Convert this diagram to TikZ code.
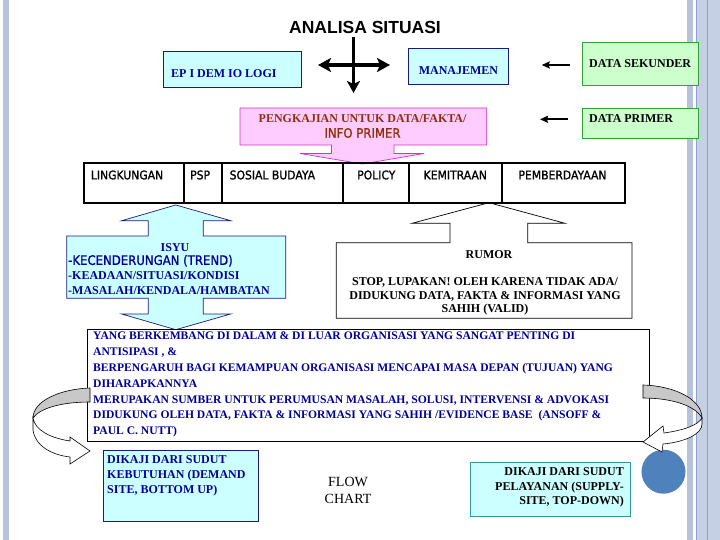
\documentclass[tikz,border=0pt]{standalone}
\usepackage{fontspec}
\setmainfont{Liberation Serif}
\newfontfamily\arialf{Liberation Sans}
\newfontfamily\tahf[FakeStretch=0.9,FakeBold=1.2]{DejaVu Sans}
\usetikzlibrary{arrows.meta}
\newcommand\myfs[2]{\fontsize{#1}{#2}\selectfont}
\definecolor{cnavy}{HTML}{000099}
\definecolor{cboxb}{HTML}{1A1A80}
\definecolor{ccyan}{HTML}{CCFFFF}
\definecolor{cpink}{HTML}{FFCCFF}
\definecolor{cpinkb}{HTML}{CC33CC}
\definecolor{cbrown}{HTML}{8F2F0A}
\definecolor{cgreenf}{HTML}{CCFFCC}
\definecolor{cgreenb}{HTML}{33A033}
\definecolor{cteal}{HTML}{339999}
\definecolor{cbar}{HTML}{B7C3DB}
\definecolor{cbar2}{HTML}{C6D0E5}
\definecolor{cbarl}{HTML}{8FA2C8}
\definecolor{cblue}{HTML}{4F81BD}
\definecolor{cgray}{HTML}{C8C8C8}
\tikzset{
  bx/.style={draw=cboxb, fill=ccyan, line width=0.8pt, inner sep=0pt},
  gbx/.style={draw=cgreenb, fill=cgreenf, line width=0.8pt, inner sep=0pt},
  tb/.style={font=\myfs{12}{14}\bfseries, inner sep=0pt},
  rowt/.style={font=\tahf\myfs{12}{14}, inner sep=0pt},
  crossarrow/.style={line width=3.6pt, {Stealth[length=13pt,width=14pt,inset=3pt]}-{Stealth[length=13pt,width=14pt,inset=3pt]}},
  downarrow/.style={line width=3.6pt, -{Stealth[length=12pt,width=13pt,inset=3pt]}},
  thinarrow/.style={line width=1.8pt, -{Stealth[length=8pt,width=7pt,inset=1pt]}},
  divline/.style={line width=2pt},
  curvgray/.style={fill=cgray, draw=black, line width=0.6pt},
  curvwhite/.style={fill=white, draw=black, line width=0.6pt},
}
\begin{document}
\begin{tikzpicture}[x=1pt,y=-1pt]
\useasboundingbox (0,0) rectangle (720,540);
\fill[white] (0,0) rectangle (720,540);
% side bars
\fill[cbar] (3,0) rectangle (9,540);
\fill[cbar] (687,0) rectangle (693,540);
\fill[cbar2] (697,0) rectangle (720,540);
\draw[cbarl, line width=1pt] (696,0) -- (696,540);
\draw[cbarl, line width=0.8pt] (707,0) -- (707,540);

% title
\node[font=\arialf\bfseries\myfs{17.5}{20}, inner sep=0pt] (title) at (365,27) {ANALISA SITUASI};

% top boxes
\node[bx, minimum width=138.2pt, minimum height=35.6pt] (epi) at (232.6,69.5) {};
\node[tb, text=cnavy, anchor=west] (epit) at (171,73.5) {EP I DEM IO LOGI};
\node[bx, minimum width=100pt, minimum height=35.7pt] (man) at (458.3,66.2) {};
\node[tb, text=cnavy] (mant) at (458.5,70.7) {MANAJEMEN};
\node[gbx, minimum width=116pt, minimum height=42.7pt, anchor=north west] (sek) at (582.3,42.3) {};
\node[tb, anchor=west] (sekt) at (589,64) {DATA SEKUNDER};
\node[gbx, minimum width=116pt, minimum height=30pt, anchor=north west] (pri) at (582.3,108.3) {};
\node[tb, anchor=west] (prit) at (589,118.3) {DATA PRIMER};

% cross arrow
\coordinate (crL) at (318,65);
\coordinate (crR) at (390,65);
\coordinate (crT) at (353.5,37);
\coordinate (crB) at (353.5,93);
\draw[crossarrow] (crL) -- (crR);
\draw[downarrow] (crT) -- (crB);

% thin arrows
\coordinate (a1s) at (570,65);
\coordinate (a1e) at (541.7,65);
\coordinate (a2s) at (568,119.3);
\coordinate (a2e) at (540,119.3);
\draw[thinarrow] (a1s) -- (a1e);
\draw[thinarrow] (a2s) -- (a2e);

% pink down arrow callout
\draw[fill=cpink, draw=cpinkb, line width=0.7pt] (240,108) -- (486.7,108) -- (486.7,145) -- (394,145) -- (394,153.5) -- (424,153.5) -- (362.5,164) -- (300,153.5) -- (331.5,153.5) -- (331.5,145) -- (240,145) -- cycle;
\node[tb, text=cbrown] (pk1) at (362.6,119) {PENGKAJIAN UNTUK DATA/FAKTA/};
\node[font=\tahf\myfs{13}{15}, text=cbrown, inner sep=0pt] (pk2) at (362.5,133) {INFO PRIMER};

% ISYU up-down arrow callout
\draw[fill=ccyan, draw=cboxb, line width=0.7pt] (66.7,236) -- (148.3,236) -- (148.3,220.7) -- (121.7,220.7) -- (175.8,205) -- (230.7,220.7) -- (203.3,220.7) -- (203.3,236) -- (285.7,236) -- (285.7,298.3) -- (203.3,298.3) -- (203.3,314) -- (230.7,314) -- (175.8,329.7) -- (121.7,314) -- (148.3,314) -- (148.3,298.3) -- (66.7,298.3) -- cycle;
\node[tb, text=cnavy] (isyu) at (175,248) {ISYU};
\node[font=\myfs{12}{14.7}\bfseries, text=cnavy, inner sep=0pt, anchor=west, align=left] (isyul) at (68,274.7) {{\tahf\mdseries\myfs{13}{14.7}-KECENDERUNGAN (TREND)}\\-KEADAAN/SITUASI/KONDISI\\-MASALAH/KENDALA/HAMBATAN};

% RUMOR up arrow callout
\draw[fill=white, draw=black, line width=0.7pt] (336.3,242.7) -- (450,242.7) -- (450,223.3) -- (412,223.3) -- (489,202.7) -- (565,223.3) -- (527.7,223.3) -- (527.7,242.7) -- (632,242.7) -- (632,318.3) -- (336.3,318.3) -- cycle;
\node[tb] (rumor) at (489,255) {RUMOR};
\node[font=\myfs{12}{13.7}\bfseries, inner sep=0pt, align=center] (stop) at (485,296.5) {STOP, LUPAKAN! OLEH KARENA TIDAK ADA/\\DIDUKUNG DATA, FAKTA \& INFORMASI YANG\\SAHIH (VALID)};

% row of aspects
\node[draw, line width=2pt, minimum width=541pt, minimum height=39.4pt, inner sep=0pt] (row) at (354,183) {};
\draw[divline] (183.8,163.3) -- (183.8,202.7);
\draw[divline] (222.4,163.3) -- (222.4,202.7);
\draw[divline] (343,163.3) -- (343,202.7);
\draw[divline] (408.6,163.3) -- (408.6,202.7);
\draw[divline] (502,163.3) -- (502,202.7);
\node[rowt, anchor=west] (lingk) at (90.7,175) {LINGKUNGAN};
\node[rowt, anchor=west] (psp) at (190,175) {PSP};
\node[rowt, anchor=west] (sos) at (229.5,175) {SOSIAL BUDAYA};
\node[rowt] (pol) at (376.3,175) {POLICY};
\node[rowt] (kem) at (455.3,175) {KEMITRAAN};
\node[rowt] (pem) at (562.5,175) {PEMBERDAYAAN};

% big text box
\node[draw, fill=white, line width=0.8pt, minimum width=561.5pt, minimum height=112pt, inner sep=0pt] (big) at (368.25,385) {};
\node[font=\myfs{11.6}{15.9}\bfseries, text=cnavy, inner sep=0pt, anchor=west, align=left] (bigt) at (93,384.5) {YANG BERKEMBANG DI DALAM \& DI LUAR ORGANISASI YANG SANGAT PENTING DI\\ANTISIPASI , \&\\BERPENGARUH BAGI KEMAMPUAN ORGANISASI MENCAPAI MASA DEPAN (TUJUAN) YANG\\DIHARAPKANNYA\\MERUPAKAN SUMBER UNTUK PERUMUSAN MASALAH, SOLUSI, INTERVENSI \& ADVOKASI\\DIDUKUNG OLEH DATA, FAKTA \& INFORMASI YANG SAHIH /EVIDENCE BASE\ \ (ANSOFF \&\\PAUL C. NUTT)};

% circle
\node[circle, fill=cblue, minimum size=44pt, inner sep=0pt] (circ) at (663.5,471.7) {};

% left curved arrow
\draw[curvgray] (90,388) .. controls (60,389) and (33,401) .. (33,418) .. controls (40,408) and (62,402) .. (90,402) -- cycle;
\draw[curvwhite] (33,418) -- (33,430) .. controls (35,446) and (52,455) .. (70,457) -- (70,464) -- (90,451) -- (70,437) -- (70,441) .. controls (50,438) and (35,430) .. (33,418) -- cycle;
% right curved arrow
\draw[curvgray] (643,385) .. controls (676,386) and (702,400) .. (702,418) .. controls (695,405) and (670,398) .. (643,398) -- cycle;
\draw[curvwhite] (702,418) -- (702,424) .. controls (702,434) and (685,442) .. (663,444) -- (662,452) -- (643,442) -- (663,426) -- (664,433) .. controls (685,430) and (698,425) .. (702,418) -- cycle;

% bottom boxes
\node[bx, minimum width=155pt, minimum height=71pt] (dem) at (180.7,486.2) {};
\node[font=\myfs{12}{15}\bfseries, text=cnavy, inner sep=0pt, anchor=west, align=left] (demt) at (107,475.8) {DIKAJI DARI SUDUT\\KEBUTUHAN (DEMAND\\SITE, BOTTOM UP)};
\node[font=\myfs{14}{17}, inner sep=0pt, align=center] (flow) at (348,490.8) {FLOW\\CHART};
\node[draw=cteal, fill=ccyan, line width=0.8pt, minimum width=159.5pt, minimum height=53.3pt, inner sep=0pt] (sup) at (550.25,489.35) {};
\node[font=\myfs{12}{14.5}\bfseries, inner sep=0pt, anchor=east, align=right] (supt) at (624,487.8) {DIKAJI DARI SUDUT\\PELAYANAN (SUPPLY-\\SITE, TOP-DOWN)};
\end{tikzpicture}
\end{document}
